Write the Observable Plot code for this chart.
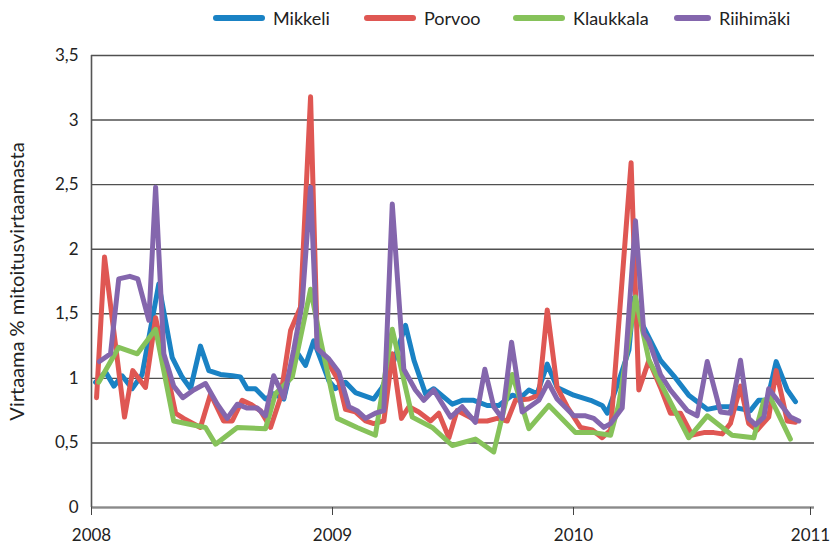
<!DOCTYPE html>
<html>
<head>
<meta charset="utf-8">
<script src="https://cdn.jsdelivr.net/npm/d3@7"></script>
<script src="https://cdn.jsdelivr.net/npm/@observablehq/plot@0.6"></script>
<style>
  body { margin: 0; background: #fff; font-family: Lato, "Open Sans", sans-serif; }
  #wrap { position: relative; width: 830px; height: 548px; overflow: hidden; }
  #legend { position: relative; height: 38px; width: 830px; }
  .item { position: absolute; top: 7px; display: flex; align-items: center; font-size: 18px; color: #222; }
  .sw { height: 6px; border-radius: 3px; margin-right: 8px; }
  svg { display: block; }
</style>
</head>
<body>
<div id="wrap">
  <div id="legend"></div>
  <div id="chart"></div>
</div>
<script>
// ---- data ----
const seriesNames = ["Mikkeli", "Porvoo", "Klaukkala", "Riihimäki"];
const seriesColors = ["#1a82c4", "#df5753", "#86c25a", "#8466ad"];

const mikkeliT = [2008.017,2008.058,2008.093,2008.127,2008.169,2008.210,2008.279,2008.335,2008.376,2008.411,2008.452,2008.487,2008.535,2008.584,2008.618,2008.646,2008.680,2008.722,2008.756,2008.798,2008.846,2008.888,2008.922,2008.985,2009.012,2009.054,2009.095,2009.171,2009.206,2009.248,2009.303,2009.338,2009.386,2009.420,2009.497,2009.538,2009.586,2009.642,2009.690,2009.746,2009.780,2009.815,2009.849,2009.891,2009.932,2010.001,2010.071,2010.119,2010.140,2010.188,2010.230,2010.250,2010.285,2010.361,2010.416,2010.478,2010.555,2010.610,2010.651,2010.734,2010.768,2010.804,2010.841,2010.887,2010.921];
const mikkeliV = [0.97,1.05,0.94,1.02,0.92,1.03,1.73,1.16,1.01,0.92,1.25,1.06,1.03,1.02,1.01,0.92,0.92,0.84,0.88,0.84,1.22,1.10,1.29,0.98,0.92,0.97,0.89,0.84,0.93,1.10,1.41,1.14,0.88,0.92,0.80,0.83,0.83,0.79,0.79,0.87,0.85,0.91,0.88,1.11,0.93,0.87,0.83,0.79,0.73,0.98,1.22,1.62,1.42,1.14,1.02,0.87,0.76,0.78,0.78,0.75,0.83,0.83,1.13,0.91,0.82];

const porvooT = [2008.021,2008.054,2008.137,2008.171,2008.224,2008.266,2008.349,2008.382,2008.452,2008.494,2008.548,2008.584,2008.625,2008.660,2008.701,2008.743,2008.784,2008.826,2008.867,2008.909,2008.937,2008.985,2009.026,2009.054,2009.095,2009.137,2009.171,2009.213,2009.248,2009.286,2009.317,2009.358,2009.407,2009.441,2009.483,2009.517,2009.559,2009.600,2009.642,2009.683,2009.725,2009.759,2009.815,2009.856,2009.891,2009.932,2009.974,2010.029,2010.078,2010.119,2010.154,2010.239,2010.271,2010.313,2010.361,2010.402,2010.444,2010.492,2010.541,2010.582,2010.617,2010.651,2010.693,2010.727,2010.762,2010.810,2010.841,2010.887,2010.921];
const porvooV = [0.85,1.94,0.70,1.06,0.93,1.47,0.73,0.69,0.62,0.88,0.67,0.67,0.83,0.80,0.75,0.62,0.85,1.37,1.55,3.18,1.27,1.11,0.98,0.76,0.74,0.67,0.65,0.67,1.19,0.69,0.78,0.74,0.67,0.73,0.54,0.75,0.71,0.67,0.67,0.69,0.67,0.83,0.84,0.87,1.53,0.93,0.78,0.62,0.60,0.54,0.60,2.67,0.91,1.14,0.93,0.73,0.73,0.56,0.58,0.58,0.57,0.65,0.94,0.65,0.60,0.70,1.06,0.67,0.66];

const klaukkalaT = [2008.030,2008.113,2008.190,2008.266,2008.341,2008.473,2008.515,2008.605,2008.722,2008.763,2008.833,2008.909,2008.950,2009.020,2009.102,2009.178,2009.248,2009.331,2009.414,2009.497,2009.593,2009.669,2009.746,2009.815,2009.898,2010.008,2010.084,2010.154,2010.188,2010.257,2010.313,2010.478,2010.555,2010.658,2010.748,2010.790,2010.817,2010.900];
const klaukkalaV = [0.97,1.24,1.19,1.38,0.67,0.62,0.49,0.62,0.61,0.88,1.01,1.69,1.30,0.69,0.62,0.56,1.38,0.70,0.62,0.48,0.53,0.43,1.03,0.61,0.79,0.58,0.58,0.56,0.80,1.63,1.14,0.54,0.71,0.56,0.54,0.83,0.85,0.53];

const riihimakiT = [2008.033,2008.079,2008.113,2008.159,2008.192,2008.238,2008.266,2008.300,2008.341,2008.379,2008.424,2008.473,2008.522,2008.563,2008.605,2008.646,2008.688,2008.722,2008.756,2008.798,2008.839,2008.874,2008.909,2008.937,2008.985,2009.026,2009.068,2009.102,2009.137,2009.178,2009.213,2009.248,2009.296,2009.344,2009.379,2009.420,2009.490,2009.538,2009.593,2009.632,2009.669,2009.704,2009.743,2009.787,2009.856,2009.895,2009.932,2010.001,2010.050,2010.084,2010.126,2010.154,2010.202,2010.257,2010.292,2010.313,2010.361,2010.402,2010.472,2010.513,2010.555,2010.610,2010.651,2010.693,2010.727,2010.755,2010.790,2010.810,2010.859,2010.900,2010.935];
const riihimakiV = [1.13,1.19,1.77,1.79,1.77,1.45,2.48,1.19,0.94,0.85,0.91,0.96,0.80,0.69,0.80,0.77,0.77,0.71,1.02,0.85,1.22,1.58,2.48,1.23,1.15,1.05,0.78,0.75,0.69,0.73,0.75,2.35,1.07,0.91,0.83,0.91,0.70,0.78,0.66,1.07,0.78,0.69,1.28,0.74,0.83,0.97,0.84,0.71,0.71,0.69,0.62,0.65,0.77,2.22,1.35,1.29,1.03,0.91,0.75,0.71,1.13,0.74,0.73,1.14,0.69,0.64,0.70,0.92,0.80,0.70,0.67];

const yTicks = [0, 0.5, 1, 1.5, 2, 2.5, 3, 3.5];
const xTicks = [2008, 2009, 2010, 2011];
const yLabel = "Virtaama % mitoitusvirtaamasta";

// ---- build table ----
const seriesT = [mikkeliT, porvooT, klaukkalaT, riihimakiT];
const seriesV = [mikkeliV, porvooV, klaukkalaV, riihimakiV];
const data = [];
seriesNames.forEach((name, i) => {
  seriesT[i].forEach((t, j) => data.push({series: name, t, v: seriesV[i][j]}));
});

// ---- legend ----
const legendPos = [213, 364, 513, 674];
const swatchW = [52, 52, 52, 37];
const legend = document.getElementById("legend");
seriesNames.forEach((name, i) => {
  const it = document.createElement("div");
  it.className = "item";
  it.style.left = legendPos[i] + "px";
  const sw = document.createElement("span");
  sw.className = "sw";
  sw.style.width = swatchW[i] + "px";
  sw.style.background = seriesColors[i];
  const tx = document.createElement("span");
  tx.textContent = name;
  it.appendChild(sw); it.appendChild(tx);
  legend.appendChild(it);
});

const comma = d => String(d).replace(".", ",");
const lastX = xTicks[xTicks.length - 1];

const chart = Plot.plot({
  width: 830,
  height: 510,
  marginLeft: 91,
  marginRight: 16,
  marginTop: 17,
  marginBottom: 41,
  style: {fontFamily: "Lato, 'Open Sans', sans-serif", fontSize: "17px", color: "#222", background: "#fff"},
  x: {type: "linear", domain: [2008, 2011]},
  y: {domain: [0, 3.5]},
  color: {domain: seriesNames, range: seriesColors},
  marks: [
    Plot.gridY(yTicks, {stroke: "#505050", strokeOpacity: 1, strokeWidth: 1.4}),
    Plot.ruleY([0], {stroke: "#8a8a8a", strokeWidth: 2}),
    Plot.ruleX([2008], {stroke: "#555", strokeWidth: 1.6}),
    Plot.axisY(yTicks, {tickSize: 0, tickPadding: 13, tickFormat: comma, fontSize: 17,
      label: yLabel, labelAnchor: "center", labelArrow: "none", labelOffset: 82}),
    Plot.axisX(xTicks.filter(d => d !== lastX), {tickSize: 8, tickPadding: 13, tickFormat: d => String(d), fontSize: 17, stroke: "#444", label: null}),
    Plot.axisX([lastX], {tickSize: 8, tickPadding: 13, tickFormat: d => String(d), fontSize: 17, stroke: "#444", label: null, dx: -4}),
    Plot.line(data, {x: "t", y: "v", z: "series", stroke: "series", strokeWidth: 5, strokeLinejoin: "round", strokeLinecap: "round"})
  ]
});
// y label size
chart.querySelectorAll("text").forEach(t => {
  if (t.textContent === yLabel) t.style.fontSize = "20px";
});
document.getElementById("chart").appendChild(chart);
</script>
</body>
</html>
